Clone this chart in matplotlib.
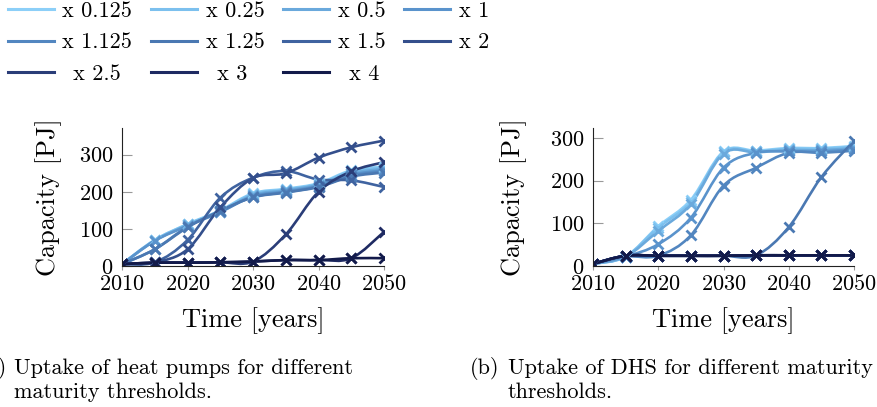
import matplotlib
matplotlib.use("Agg")
import matplotlib.pyplot as plt
import numpy as np
from matplotlib.path import Path
from matplotlib.patches import PathPatch
from matplotlib.lines import Line2D

plt.rcParams['font.family'] = ['cmr10', 'DejaVu Serif']
plt.rcParams['mathtext.fontset'] = 'cm'
plt.rcParams['axes.formatter.use_mathtext'] = True

years = [2010, 2015, 2020, 2025, 2030, 2035, 2040, 2045, 2050]
labels = ['x 0.125', 'x 0.25', 'x 0.5', 'x 1', 'x 1.125', 'x 1.25',
          'x 1.5', 'x 2', 'x 2.5', 'x 3', 'x 4']

# capacity [PJ], one row per maturity threshold (same order as labels)
heat_pumps = [
    [5, 70, 113, 150, 196, 208, 223, 258, 268],
    [5, 70, 112, 148, 194, 206, 221, 255, 265],
    [5, 68, 110, 146, 191, 204, 219, 250, 262],
    [5, 68, 108, 145, 188, 201, 216, 246, 258],
    [5, 45, 106, 147, 186, 199, 214, 243, 255],
    [5, 45, 104, 149, 185, 198, 213, 241, 252],
    [5, 10, 70, 184, 238, 256, 233, 231, 213],
    [5, 10, 45, 158, 237, 250, 292, 320, 338],
    [5, 9, 9, 10, 12, 85, 200, 255, 280],
    [5, 9, 9, 10, 12, 16, 16, 21, 92],
    [5, 9, 9, 10, 12, 16, 16, 21, 21],
]

dhs = [
    [5, 22, 93, 155, 268, 270, 276, 276, 281],
    [5, 22, 90, 150, 266, 268, 274, 274, 279],
    [5, 22, 82, 145, 263, 266, 271, 271, 276],
    [5, 22, 51, 113, 230, 265, 268, 268, 273],
    [5, 22, 24, 72, 188, 230, 265, 265, 270],
    [5, 24, 24, 24, 24, 25, 91, 208, 293],
    [5, 24, 24, 24, 24, 25, 25, 25, 25],
    [5, 24, 24, 24, 24, 25, 25, 25, 25],
    [5, 24, 24, 24, 24, 25, 25, 25, 25],
    [5, 24, 24, 24, 24, 25, 25, 25, 25],
    [5, 24, 24, 24, 24, 25, 25, 25, 25],
]

colors = ['#8ccff8', '#7cc0ee', '#6aa9dc', '#5a93cc', '#5286c0', '#4a78b2',
          '#3f63a0', '#344f8c', '#2a3d78', '#1e2a62', '#121a4a']


def smooth_path(x, y, k=0.17):
    # cubic bezier through the points, similar to pgfplots "smooth"
    pts = np.column_stack([x, y]).astype(float)
    n = len(pts)
    verts = [pts[0]]
    codes = [Path.MOVETO]
    for i in range(n - 1):
        p0 = pts[i - 1] if i > 0 else pts[i]
        p1 = pts[i]
        p2 = pts[i + 1]
        p3 = pts[i + 2] if i + 2 < n else pts[i + 1]
        verts += [p1 + k * (p2 - p0), p2 - k * (p3 - p1), p2]
        codes += [Path.CURVE4] * 3
    return Path(verts, codes)


def draw_panel(ax, data, ymax, ylab_x):
    for vals, c in zip(data, colors):
        ax.add_patch(PathPatch(smooth_path(years, vals), fill=False,
                               edgecolor=c, lw=1.9, capstyle='round',
                               joinstyle='round'))
        ax.plot(years, vals, ls='none', marker='x', color=c,
                markersize=7, mew=2.0)
    ax.set_xlim(2010, 2050)
    ax.set_ylim(0, ymax)
    ax.set_xticks([2010, 2020, 2030, 2040, 2050])
    ax.set_yticks([0, 100, 200, 300])
    for s in ['top', 'right']:
        ax.spines[s].set_visible(False)
    for s in ['left', 'bottom']:
        ax.spines[s].set_color('#222222')
        ax.spines[s].set_linewidth(0.8)
    ax.tick_params(axis='x', direction='out', length=3, color='#999999',
                   labelsize=16, pad=3)
    ax.tick_params(axis='y', direction='in', length=7, color='#999999',
                   labelsize=16, pad=6)
    ax.set_xlabel('Time [years]', fontsize=19)
    ax.set_ylabel('Capacity [PJ]', fontsize=19)
    ax.xaxis.set_label_coords(0.5, -0.30)
    ax.yaxis.set_label_coords(ylab_x, 0.5)


W, H = 877, 407
fig = plt.figure(figsize=(W / 100, H / 100), dpi=100)

ax1 = fig.add_axes([122 / W, (H - 266) / H, 262 / W, 138 / H])
ax2 = fig.add_axes([593 / W, (H - 266) / H, 261 / W, 138 / H])
draw_panel(ax1, heat_pumps, 372, -0.229)
draw_panel(ax2, dhs, 323, -0.253)

# legend, filled row by row; the last row's labels sit a little further in
handles = [Line2D([], [], color=c, lw=2.2) for c in colors]
order = [0, 4, 8, 1, 5, 9, 2, 6, 10, 3, 7]
leg_labels = [('\u2002' + labels[i]) if i >= 8 else labels[i] for i in order]
fig.legend([handles[i] for i in order], leg_labels,
           loc='upper left', bbox_to_anchor=(8 / W, 1 - 1 / H), ncol=4,
           frameon=False, fontsize=16, handlelength=2.05,
           handletextpad=0.4, columnspacing=0.85, labelspacing=0.55,
           borderpad=0, borderaxespad=0)

# captions
fig.text(7 / W, 1 - 368 / H, '(a)', ha='right', va='center', fontsize=16)
fig.text(14 / W, 1 - 368 / H, 'Uptake of heat pumps for different',
         va='center', fontsize=16)
fig.text(14 / W, 1 - 392 / H, 'maturity thresholds.', va='center',
         fontsize=16)
fig.text(470 / W, 1 - 368 / H, '(b)', va='center', fontsize=16)
fig.text(508 / W, 1 - 368 / H, 'Uptake of DHS for different maturity',
         va='center', fontsize=16)
fig.text(508 / W, 1 - 392 / H, 'thresholds.', va='center', fontsize=16)

fig.savefig('out.png', dpi=100)
